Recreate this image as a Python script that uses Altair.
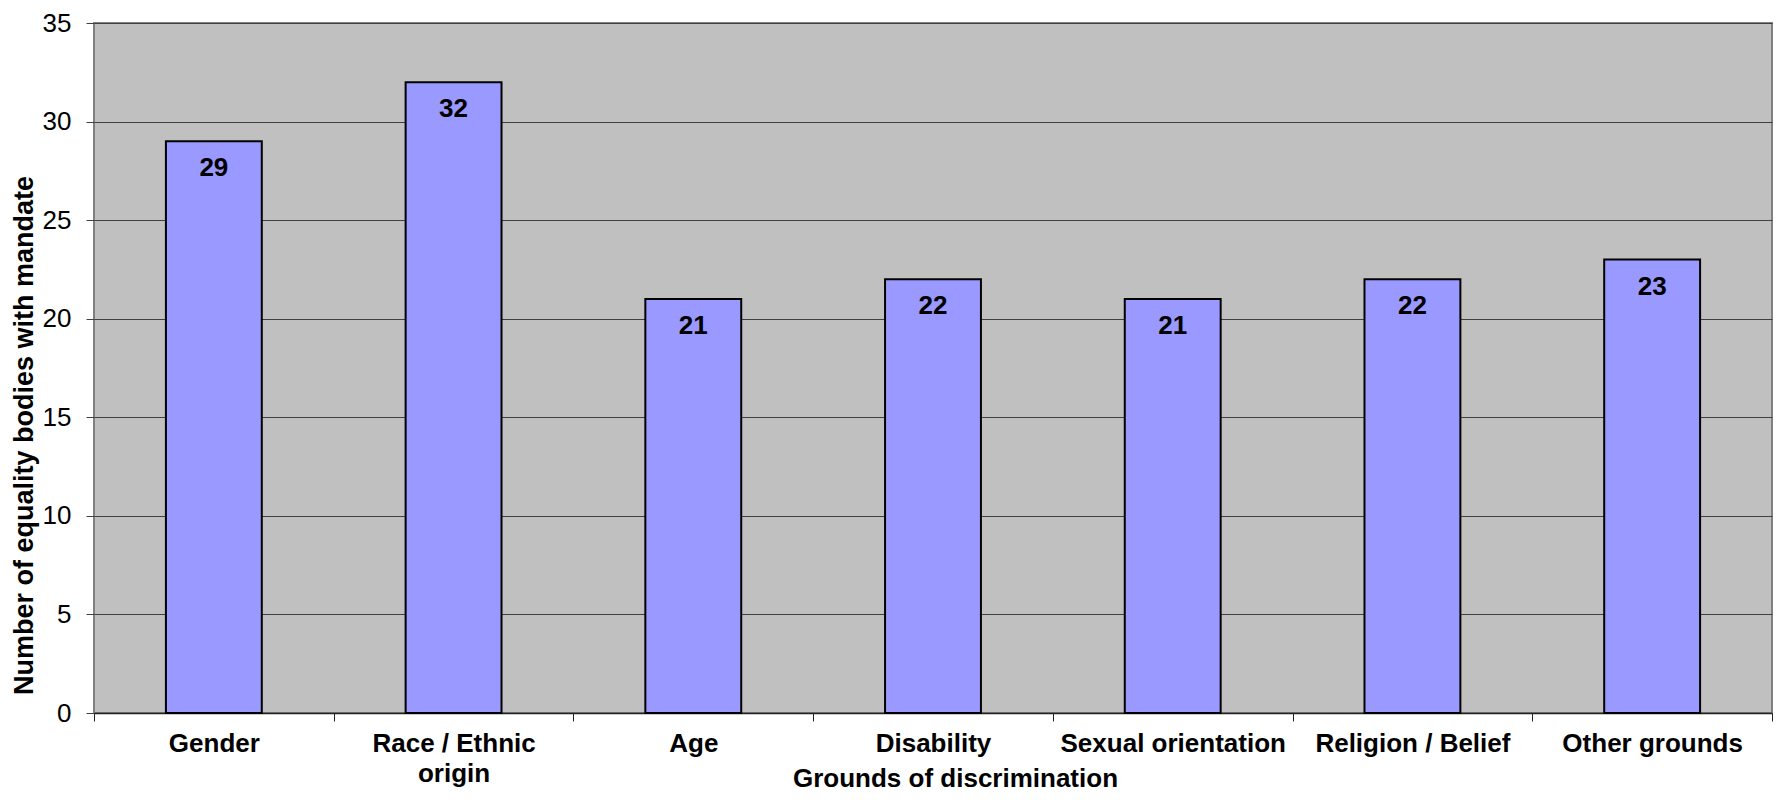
import altair as alt
import pandas as pd

categories = ["Gender", "Race / Ethnic\norigin", "Age", "Disability",
              "Sexual orientation", "Religion / Belief", "Other grounds"]
values = [29, 32, 21, 22, 21, 22, 23]
y_ticks = [0, 5, 10, 15, 20, 25, 30, 35]

df = pd.DataFrame({"ground": categories, "value": values})

FONT = "Liberation Sans"

x_enc = alt.X(
    "ground:N",
    sort=categories,
    scale=alt.Scale(paddingInner=0, paddingOuter=0),
    axis=alt.Axis(
        title="Grounds of discrimination",
        titleFont=FONT, titleFontSize=26, titleFontWeight="bold", titleColor="black",
        titleX=861, titleY=65, titleBaseline="middle", titleAlign="center",
        labelFont=FONT, labelFontSize=26, labelFontWeight="bold", labelColor="black",
        labelAngle=0, labelPadding=9, labelLineHeight=30, labelLimit=0,
        labelExpr="split(datum.label, '\\n')",
        tickBand="extent", tickSize=8, tickColor="#222222",
        domainColor="#222222", domainWidth=1.5,
        grid=False,
    ),
)

y_enc = alt.Y(
    "value:Q",
    scale=alt.Scale(domain=[0, 35], nice=False),
    axis=alt.Axis(
        title="Number of equality bodies with mandate",
        titleFont=FONT, titleFontSize=27, titleFontWeight="bold", titleColor="black",
        titleX=-70, titleY=412, titleAlign="center", titleBaseline="middle",
        values=y_ticks,
        labelFont=FONT, labelFontSize=26, labelColor="black", labelPadding=15,
        tickSize=8, tickColor="#404040",
        grid=True, gridColor="#404040", gridWidth=1,
        domain=False,
    ),
)

bars = alt.Chart(df).mark_bar(
    color="#9999FF", stroke="black", strokeWidth=2,
    width=alt.RelativeBandSize(0.4),
).encode(x=x_enc, y=y_enc)

labels = alt.Chart(df).mark_text(
    baseline="middle", dy=27, font=FONT, fontSize=26, fontWeight="bold", color="black"
).encode(x=alt.X("ground:N", sort=categories), y=alt.Y("value:Q"), text="value:Q")

chart = alt.layer(bars, labels).properties(
    width=1678,
    height=690,
    autosize=alt.AutoSizeParams(type="none"),
    padding={"left": 86, "top": 15, "right": 2, "bottom": 81},
    background="white",
).configure_view(
    fill="#C0C0C0", stroke="#808080", strokeWidth=2
)

chart.save("out.html", embed_options={"renderer": "svg", "actions": False})
